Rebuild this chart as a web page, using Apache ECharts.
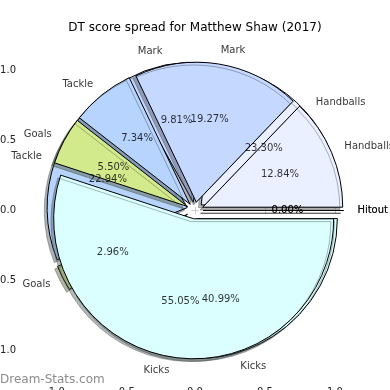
<!DOCTYPE html>
<html><head><meta charset="utf-8">
<script src="https://cdn.jsdelivr.net/npm/echarts@6/dist/echarts.min.js"></script>
<style>html,body{margin:0;padding:0;background:#fff}#c{width:390px;height:390px}</style>
</head><body><div id="c"></div>
<script>
// ---- data ----
const categories = ['Hitout', 'Handballs', 'Mark', 'Tackle', 'Goals', 'Kicks'];
const shareA = [0.00, 12.84, 19.27, 7.34, 5.50, 55.05];
const shareB = [0.00, 23.30, 9.81, 22.94, 2.96, 40.99];
const axisTicks = [-1.0, -0.5, 0.0, 0.5, 1.0];
const titleText = 'DT score spread for Matthew Shaw (2017)';

// ---- style ----
const colorOf = {
  Hitout: '#d8d8d8', Handballs: '#eaf0ff', Mark: '#c5d8ff',
  Tackle: '#b6d4fd', Goals: '#d2ea8c', Kicks: '#dbffff'
};
const R = 140, EXPL = 0.06, CX = 195, CY = 210.5;
const XLIM = 1.2286, YLIM = 1.2393;
const FONT = 'DejaVu Sans';

function shadowOf(hex) {
  const n = parseInt(hex.slice(1), 16);
  const r = Math.round(((n >> 16) & 255) * 0.3), g = Math.round(((n >> 8) & 255) * 0.3), b = Math.round((n & 255) * 0.3);
  return 'rgba(' + r + ',' + g + ',' + b + ',0.4)';
}

function pieSeries(values, z) {
  const base = { borderColor: '#000', borderWidth: 1, shadowBlur: 0, shadowOffsetX: -0.02 * R, shadowOffsetY: 0.02 * R };
  return {
    type: 'pie', z: z, center: [CX, CY], radius: R, startAngle: 0, clockwise: false,
    selectedMode: 'multiple', selectedOffset: EXPL * R, silent: true, animation: false,
    label: { show: false }, labelLine: { show: false }, emphasis: { disabled: true },
    itemStyle: base, select: { itemStyle: base },
    data: categories.map((c, i) => ({
      name: c, value: values[i], selected: true,
      itemStyle: { color: colorOf[c], shadowColor: shadowOf(colorOf[c]) },
      select: { itemStyle: { color: colorOf[c], shadowColor: shadowOf(colorOf[c]) } }
    }))
  };
}

function labelData(values) {
  const total = values.reduce((a, b) => a + b, 0);
  let cum = 0;
  const out = [];
  values.forEach((v, i) => {
    const th = (cum + v / 2) / total * 2 * Math.PI;
    cum += v;
    const c = Math.cos(th), s = Math.sin(th);
    const ox = EXPL * c, oy = EXPL * s;
    const nx = ox + 1.1 * c, ny = oy + 1.1 * s;
    out.push({ value: [nx, ny], label: { formatter: categories[i], align: nx > 0 ? 'left' : 'right' } });
    out.push({ value: [ox + 0.6 * c, oy + 0.6 * s], label: { formatter: v.toFixed(2) + '%', align: 'center' } });
  });
  return out;
}

const tickStyle = { show: true, customValues: axisTicks, length: 3.5, inside: false, lineStyle: { color: '#c8c8c8', width: 1 } };
const labelStyle = { show: true, customValues: axisTicks, fontSize: 10, fontFamily: FONT, color: '#222', formatter: v => v.toFixed(1) };

const chart = echarts.init(document.getElementById('c'), null, { renderer: 'canvas' });
chart.setOption({
  animation: false,
  backgroundColor: '#fff',
  title: { text: titleText, left: 'center', top: 17, textStyle: { fontSize: 12, fontWeight: 'normal', color: '#000', fontFamily: FONT } },
  grid: { left: CX - XLIM * R, right: 390 - (CX + XLIM * R), top: CY - YLIM * R, bottom: 390 - (CY + YLIM * R), containLabel: false, outerBoundsMode: 'none' },
  xAxis: [
    { type: 'value', position: 'bottom', min: -XLIM, max: XLIM, axisLine: { show: false }, splitLine: { show: false }, axisTick: tickStyle, axisLabel: Object.assign({}, labelStyle, { margin: 3 }) },
    { type: 'value', position: 'top', min: -XLIM, max: XLIM, axisLine: { show: false }, splitLine: { show: false }, axisTick: tickStyle, axisLabel: { show: false } }
  ],
  yAxis: [
    { type: 'value', position: 'left', min: -YLIM, max: YLIM, axisLine: { show: false }, splitLine: { show: false }, axisTick: tickStyle, axisLabel: Object.assign({}, labelStyle, { margin: 7 }) },
    { type: 'value', position: 'right', min: -YLIM, max: YLIM, axisLine: { show: false }, splitLine: { show: false }, axisTick: tickStyle, axisLabel: { show: false } }
  ],
  graphic: [{
    type: 'text', left: 0, top: 374, silent: true,
    style: { text: 'Dream-Stats.com', fontSize: 12, fontFamily: FONT, fill: '#8c8c8c' }
  }],
  series: [
    pieSeries(shareB, 2),
    pieSeries(shareA, 3),
    {
      type: 'scatter', z: 6, xAxisIndex: 0, yAxisIndex: 0, symbolSize: 0, silent: true,
      label: { show: true, position: 'inside', fontSize: 10, fontFamily: FONT, color: '#000', textBorderWidth: 0, verticalAlign: 'middle' },
      data: labelData(shareB).concat(labelData(shareA))
    }
  ]
});
</script></body></html>
